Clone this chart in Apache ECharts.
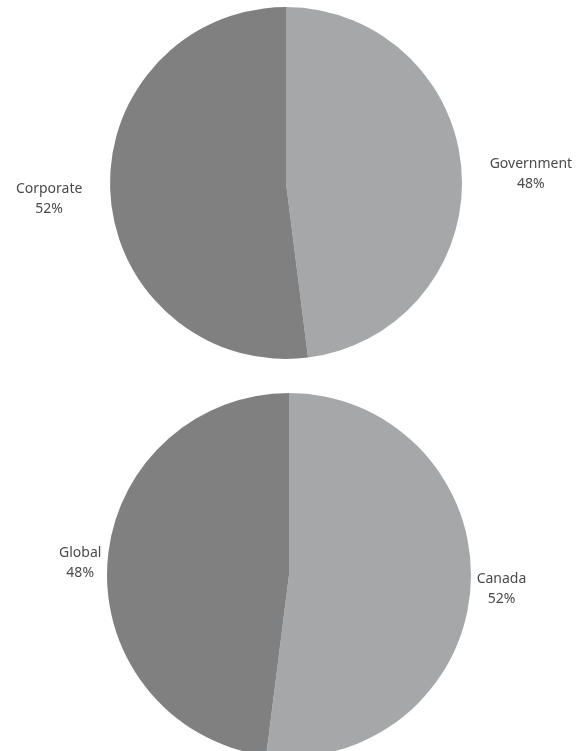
<!DOCTYPE html>
<html>
<head>
<meta charset="utf-8">
<script src="https://cdn.jsdelivr.net/npm/echarts@6/dist/echarts.min.js"></script>
<style>
  html, body { margin: 0; padding: 0; background: #fff; }
  #pies { width: 587px; height: 751px; }
</style>
</head>
<body>
<div id="pies"></div>
<script>
// top pie: sector split
var sectorNames = ['Government', 'Corporate'];
var sectorValues = [48, 52];
// bottom pie: region split
var regionNames = ['Canada', 'Global'];
var regionValues = [52, 48];

var lightGrey = '#a6a7a9';
var darkGrey = '#808081';

// label gap to the pie edge, per slice
function toData(names, values, colors, lines) {
    return names.map(function (n, i) {
        return {
            name: n,
            value: values[i],
            itemStyle: { color: colors[i] },
            labelLine: { show: false, length: lines[i][0], length2: lines[i][1] }
        };
    });
}

var labelStyle = {
    position: 'outside',
    formatter: '{t|{b}}\n{t|{d}%}',
    rich: {
        t: {
            align: 'center',
            fontFamily: 'Noto Sans',
            fontSize: 14,
            lineHeight: 20,
            color: '#4a4a4a'
        }
    }
};

// small vertical nudges for the labels
function nudge(shifts) {
    return function (params) {
        return { dy: shifts[params.dataIndex] };
    };
}

var myChart = echarts.init(document.getElementById('pies'), null, { renderer: 'canvas' });

myChart.setOption({
    animation: false,
    series: [
        {
            type: 'pie',
            center: [286, 183],
            radius: 176,
            startAngle: 90,
            clockwise: true,
            silent: true,
            itemStyle: { borderWidth: 0 },
            label: labelStyle,
            labelLayout: nudge([3, 4]),
            data: toData(sectorNames, sectorValues, [lightGrey, darkGrey], [[8, 15], [8, 15]])
        },
        {
            type: 'pie',
            center: [289, 575],
            radius: 182,
            startAngle: 90,
            clockwise: true,
            silent: true,
            itemStyle: { borderWidth: 0 },
            label: labelStyle,
            labelLayout: nudge([3, 0]),
            data: toData(regionNames, regionValues, [lightGrey, darkGrey], [[1, 0], [1, 0]])
        }
    ]
});
</script>
</body>
</html>
